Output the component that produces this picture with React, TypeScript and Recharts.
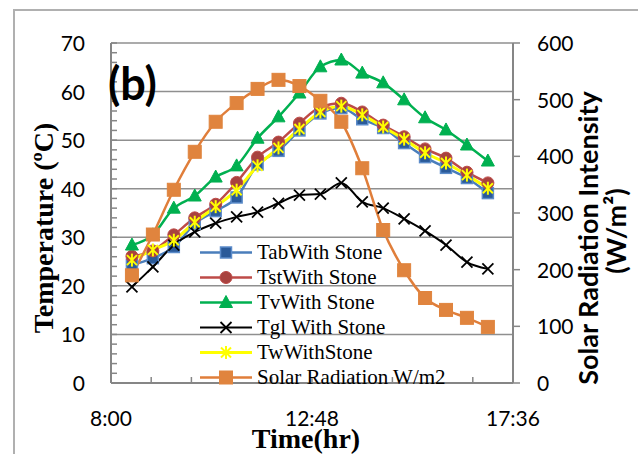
import React from 'react';
import { ComposedChart, Line, XAxis, YAxis, CartesianGrid, Legend } from 'recharts';

const timeLabels = ['8:30', '9:00', '9:30', '10:00', '10:30', '11:00', '11:30', '12:00', '12:30', '13:00', '13:30', '14:00', '14:30', '15:00', '15:30', '16:00', '16:30', '17:00'];
const tabWithStone = [24.3, 25.7, 28.0, 32.8, 35.4, 38.2, 45.0, 47.8, 52.0, 55.5, 56.6, 54.3, 52.5, 49.4, 46.5, 44.3, 42.2, 39.1];
const tstWithStone = [26.1, 27.2, 30.5, 34.0, 36.8, 41.3, 46.5, 49.6, 53.5, 56.8, 57.6, 55.8, 53.1, 50.7, 48.2, 46.3, 43.4, 41.2];
const tvWithStone = [28.4, 30.5, 36.0, 38.5, 42.4, 44.7, 50.4, 54.8, 59.7, 65.1, 66.5, 63.8, 61.8, 58.3, 54.6, 52.1, 49.0, 45.7];
const tglWithStone = [19.8, 23.9, 28.4, 31.1, 32.9, 34.2, 35.2, 37.0, 38.7, 38.9, 41.2, 37.3, 36.0, 33.8, 31.3, 28.4, 24.9, 23.5];
const twWithStone = [25.3, 27.4, 29.4, 33.1, 36.3, 39.7, 44.7, 48.4, 52.3, 55.8, 57.0, 55.2, 52.7, 50.2, 47.4, 45.3, 42.8, 40.1];
const solarRadiation = [190, 262, 341, 408, 461, 494, 519, 535, 524, 498, 461, 379, 270, 199, 150, 129, 115, 99];

const xTickLabels = ['8:00', '12:48', '17:36'];
const xTickValues = [480, 537.6, 595.2, 652.8, 710.4, 768, 825.6, 883.2, 940.8, 998.4, 1056];
const leftTicks = [0, 2, 4, 6, 8, 10, 12, 14, 16, 18, 20, 22, 24, 26, 28, 30, 32, 34, 36, 38, 40, 42, 44, 46, 48, 50, 52, 54, 56, 58, 60, 62, 64, 66, 68, 70];
const gridValues = [10, 20, 30, 40, 50, 60, 70];
const rightTicks = [0, 100, 200, 300, 400, 500, 600];

const toMinutes = (s: string) => {
  const [h, m] = s.split(':').map(Number);
  return h * 60 + m;
};

const data = timeLabels.map((t, i) => ({
  t: toMinutes(t),
  tab: tabWithStone[i],
  tst: tstWithStone[i],
  tv: tvWithStone[i],
  tgl: tglWithStone[i],
  tw: twWithStone[i],
  solar: solarRadiation[i],
}));

const AXIS = '#868686';
const TICK_FONT = 'Lato, "Open Sans", sans-serif';
const SERIF = '"Liberation Serif", "Times New Roman", serif';

type Kind = 'bsq' | 'circle' | 'tri' | 'x' | 'star' | 'osq';

function marker(kind: Kind, cx: number, cy: number, key?: any) {
  switch (kind) {
    case 'bsq':
      return <rect key={key} x={cx - 5.5} y={cy - 5.5} width={11} height={11} fill="#2A5A99" stroke="#5B8BC9" strokeWidth={1.5} />;
    case 'circle':
      return <circle key={key} cx={cx} cy={cy} r={6} fill="#A8423F" stroke="#BE4B48" strokeWidth={1} />;
    case 'tri':
      return <polygon key={key} points={`${cx},${cy - 7} ${cx + 6.5},${cy + 5} ${cx - 6.5},${cy + 5}`} fill="#00B050" stroke="#00B050" strokeWidth={1} />;
    case 'x':
      return (
        <g key={key} stroke="#000" strokeWidth={1.8}>
          <line x1={cx - 5.5} y1={cy - 5.5} x2={cx + 5.5} y2={cy + 5.5} />
          <line x1={cx - 5.5} y1={cy + 5.5} x2={cx + 5.5} y2={cy - 5.5} />
        </g>
      );
    case 'star':
      return (
        <g key={key} stroke="#FFFF00" strokeWidth={2}>
          <line x1={cx - 5} y1={cy - 5} x2={cx + 5} y2={cy + 5} />
          <line x1={cx - 5} y1={cy + 5} x2={cx + 5} y2={cy - 5} />
          <line x1={cx} y1={cy - 6.5} x2={cx} y2={cy + 6.5} />
        </g>
      );
    case 'osq':
      return <rect key={key} x={cx - 6.5} y={cy - 6.5} width={13} height={13} fill="#E0843E" stroke="#E0843E" strokeWidth={1} />;
  }
  return null;
}

const dotFor = (kind: Kind) => (props: any) => {
  const { cx, cy, index } = props;
  if (cx == null || cy == null) return <g key={index} />;
  return marker(kind, cx, cy, index);
};

const series = [
  { key: 'tab', name: 'TabWith Stone', color: '#4A7EBB', width: 2.5, kind: 'bsq' as Kind, axis: 'left' },
  { key: 'tst', name: 'TstWith Stone', color: '#BE4B48', width: 2.5, kind: 'circle' as Kind, axis: 'left' },
  { key: 'tv', name: 'TvWith Stone', color: '#00B050', width: 2.5, kind: 'tri' as Kind, axis: 'left' },
  { key: 'tgl', name: 'Tgl With Stone', color: '#000000', width: 2, kind: 'x' as Kind, axis: 'left' },
  { key: 'tw', name: 'TwWithStone', color: '#FFFF00', width: 3, kind: 'star' as Kind, axis: 'left' },
  { key: 'solar', name: 'Solar Radiation W/m2', color: '#E07E3A', width: 2.5, kind: 'osq' as Kind, axis: 'right' },
];

const XTick = (props: any) => {
  const { x, y, index } = props;
  const major = index % 5 === 0;
  return (
    <g>
      <line x1={x} y1={y} x2={x} y2={y - 6} stroke={AXIS} strokeWidth={1.5} />
      {major && (
        <text x={x} y={y + 43} textAnchor="middle" fontFamily={TICK_FONT} fontSize={21} fill="#000">
          {xTickLabels[index / 5]}
        </text>
      )}
    </g>
  );
};

const LeftTick = (props: any) => {
  const { x, y, payload } = props;
  const v = payload.value;
  const major = v % 10 === 0;
  return (
    <g>
      <line x1={x} y1={y} x2={x + 6} y2={y} stroke={AXIS} strokeWidth={1.5} />
      {major && (
        <text x={x - 26} y={y + 8} textAnchor="end" fontFamily={TICK_FONT} fontSize={21} fill="#000">
          {v}
        </text>
      )}
    </g>
  );
};

const RightTick = (props: any) => {
  const { x, y, payload } = props;
  return (
    <g>
      <line x1={x} y1={y} x2={x + 7} y2={y} stroke={AXIS} strokeWidth={1.5} />
      <text x={x + 24} y={y + 8} textAnchor="start" fontFamily={TICK_FONT} fontSize={21} fill="#000">
        {payload.value}
      </text>
    </g>
  );
};

const LegendBox = () => (
  <div style={{ display: 'flex', flexDirection: 'column', fontFamily: SERIF }}>
    {series.map((s) => (
      <div key={s.key} style={{ display: 'flex', alignItems: 'center', height: 25 }}>
        <svg width={52} height={25} style={{ display: 'block' }}>
          <line x1={0} y1={12.5} x2={52} y2={12.5} stroke={s.color} strokeWidth={s.width} />
          {marker(s.kind, 26, 12.5)}
        </svg>
        <span style={{ marginLeft: 5, fontFamily: SERIF, fontSize: 21, lineHeight: '25px', whiteSpace: 'nowrap', color: '#000' }}>
          {s.name}
        </span>
      </div>
    ))}
  </div>
);

export default function App() {
  return (
    <div style={{ position: 'absolute', left: 0, top: 0, width: 638, height: 454, overflow: 'hidden', background: '#fff' }}>
      <div style={{ position: 'absolute', left: 13, top: 9, width: 700, height: 600, border: '2px solid #b0b0b0', boxSizing: 'border-box' }} />
      <div style={{ position: 'absolute', left: 0, top: 0 }}>
        <ComposedChart width={638} height={454} data={data} margin={{ top: 43, right: 0, bottom: 0, left: 0 }}>
          <CartesianGrid yAxisId="left" vertical={false} horizontalValues={gridValues} stroke="#8f8f8f" strokeWidth={1.5} />
          <XAxis
            dataKey="t"
            type="number"
            domain={[480, 1056]}
            ticks={xTickValues}
            interval={0}
            tickSize={0}
            tickMargin={0}
            tickLine={false}
            tick={<XTick />}
            axisLine={{ stroke: AXIS, strokeWidth: 2 }}
            height={71}
            allowDataOverflow
          />
          <YAxis
            yAxisId="left"
            domain={[0, 70]}
            ticks={leftTicks}
            interval={0}
            tickSize={0}
            tickMargin={0}
            tickLine={false}
            tick={<LeftTick />}
            axisLine={{ stroke: AXIS, strokeWidth: 2 }}
            width={111}
            allowDataOverflow
          />
          <YAxis
            yAxisId="right"
            orientation="right"
            domain={[0, 600]}
            ticks={rightTicks}
            interval={0}
            tickSize={0}
            tickMargin={0}
            tickLine={false}
            tick={<RightTick />}
            axisLine={{ stroke: AXIS, strokeWidth: 2 }}
            width={125}
            allowDataOverflow
          />
          {series.map((s) => (
            <Line
              key={s.key}
              yAxisId={s.axis}
              dataKey={s.key}
              name={s.name}
              type="monotone"
              stroke={s.color}
              strokeWidth={s.width}
              dot={dotFor(s.kind)}
              activeDot={false}
              isAnimationActive={false}
            />
          ))}
          <Legend
            layout="vertical"
            align="center"
            verticalAlign="middle"
            content={() => <LegendBox />}
            wrapperStyle={{ position: 'absolute', left: 200, top: 240, width: 320, height: 150 }}
          />
        </ComposedChart>
      </div>
      <svg width={638} height={454} style={{ position: 'absolute', left: 0, top: 0, pointerEvents: 'none' }}>
        <text x={108} y={100} fontFamily={TICK_FONT} fontWeight="bold" fontSize={45} fill="#000">(b)</text>
        <text x={53} y={228} transform="rotate(-90 53 228)" textAnchor="middle" fontFamily={SERIF} fontWeight="bold" fontSize={28} fill="#000">
          Temperature (ºC)
        </text>
        <text x={306} y={448} textAnchor="middle" fontFamily={SERIF} fontWeight="bold" fontSize={28} fill="#000">
          Time(hr)
        </text>
        <text x={598} y={238} transform="rotate(-90 598 238)" textAnchor="middle" fontFamily={TICK_FONT} fontWeight="bold" fontSize={27} fill="#000">
          Solar Radiation Intensity
        </text>
        <text x={626} y={231} transform="rotate(-90 626 231)" textAnchor="middle" fontFamily={TICK_FONT} fontWeight="bold" fontSize={27} fill="#000">
          (W/m²)
        </text>
      </svg>
    </div>
  );
}
